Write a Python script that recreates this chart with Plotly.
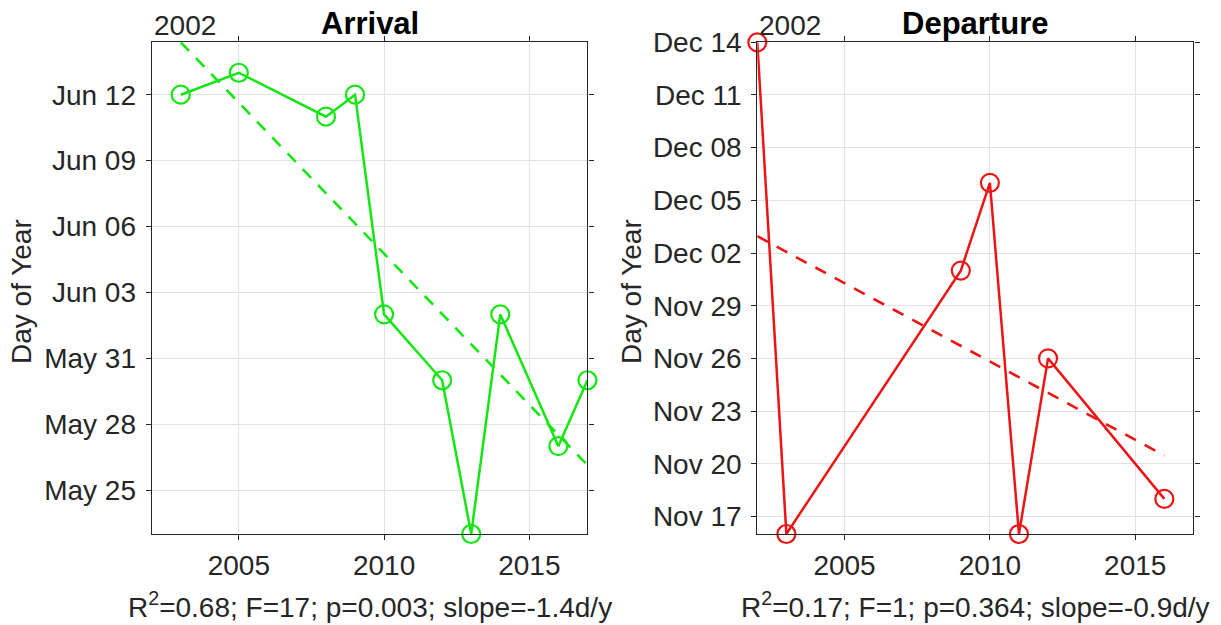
import numpy as np
import pandas as pd
import plotly.graph_objects as go

# ---------------- data ----------------
arrival_years = [2003, 2005, 2008, 2009, 2010, 2012, 2013, 2014, 2016, 2017]
arrival_days = ["06-12", "06-13", "06-11", "06-12", "06-02", "05-30", "05-23", "06-02", "05-27", "05-30"]

departure_years = [2002, 2003, 2009, 2010, 2011, 2012, 2016]
departure_days = ["12-14", "11-16", "12-01", "12-06", "11-16", "11-26", "11-18"]

arrival_stats = "R<sup>2</sup>=0.68; F=17; p=0.003; slope=-1.4d/y"
departure_stats = "R<sup>2</sup>=0.17; F=1; p=0.364; slope=-0.9d/y"
panel_titles = ["Arrival", "Departure"]
y_title = "Day of Year"
x_ticks = [2005, 2010, 2015]
x_range = [2002, 2017]
ref_year = 2001  # neutral non-leap year used to place month/day values on a date axis

GREEN = "#14e614"
RED = "#ec1515"
AX = "#262626"
GRID = "#e2e2e2"
FONT = "Liberation Sans, Arial, sans-serif"
W, H = 1221, 625


def to_dates(md):
    return pd.to_datetime([f"{ref_year}-{d}" for d in md])


def trend(years, dates):
    x = np.asarray(years, dtype=float)
    base = pd.Timestamp(f"{ref_year}-01-01")
    d = np.array([(t - base).total_seconds() / 86400.0 for t in dates])
    k, b = np.polyfit(x, d, 1)
    xs = np.array([x.min(), x.max()])
    ys = [base + pd.Timedelta(days=float(k * xx + b)) for xx in xs]
    return xs, ys


fig = go.Figure()

panels = [
    (arrival_years, to_dates(arrival_days), GREEN, "x", "y"),
    (departure_years, to_dates(departure_days), RED, "x2", "y2"),
]
y_ranges = []
for yrs, dts, col, xa, ya in panels:
    tx, ty = trend(yrs, dts)
    fig.add_trace(go.Scatter(
        x=yrs, y=dts, mode="lines+markers", xaxis=xa, yaxis=ya,
        line=dict(color=col, width=2.5),
        marker=dict(symbol="circle-open", size=18, color=col, line=dict(width=2.2, color=col)),
        cliponaxis=False, showlegend=False,
    ))
    fig.add_trace(go.Scatter(
        x=tx, y=ty, mode="lines", xaxis=xa, yaxis=ya,
        line=dict(color=col, width=2.6, dash="12px,10px"),
        showlegend=False,
    ))
    allv = list(dts) + list(ty)
    y_ranges.append([min(allv), max(allv)])

# ---------------- layout ----------------
x_doms = [[151.7 / W, 587.4 / W], [757.3 / W, 1193.4 / W]]
y_dom = [(H - 534) / H, (H - 42.3) / H]

axis_common = dict(
    showline=True, linecolor=AX, linewidth=1.2, mirror="ticks",
    ticks="outside", ticklen=5, tickwidth=1, tickcolor=AX,
    showgrid=True, gridcolor=GRID, gridwidth=1, zeroline=False,
    tickfont=dict(family=FONT, size=28, color=AX), automargin=False,
)

layout = dict(
    width=W, height=H,
    margin=dict(l=0, r=0, t=0, b=0, pad=0, autoexpand=False),
    paper_bgcolor="white", plot_bgcolor="white",
    font=dict(family=FONT, color=AX),
)
for i in range(2):
    sx = "" if i == 0 else str(i + 1)
    layout["xaxis" + sx] = dict(
        axis_common, domain=x_doms[i], range=x_range, tickvals=x_ticks,
        anchor="y" + sx, ticklabelstandoff=1,
    )
    layout["yaxis" + sx] = dict(
        axis_common, domain=y_dom, type="date", range=y_ranges[i],
        tickformat="%b %d", dtick=3 * 86400000,
        tick0=f"{ref_year}-05-25" if i == 0 else f"{ref_year}-11-17",
        anchor="x" + sx, ticklabelstandoff=4,
    )
fig.update_layout(**layout)

ann = []
stats = [arrival_stats, departure_stats]
ytitle_x = [21, 631]
for i in range(2):
    cx = (x_doms[i][0] + x_doms[i][1]) / 2
    ann.append(dict(text=f"<b>{panel_titles[i]}</b>", x=cx, y=1 - 24 / H, xref="paper", yref="paper",
                    xanchor="center", yanchor="middle", showarrow=False,
                    font=dict(family=FONT, size=31, color="black")))
    ann.append(dict(text=str(x_range[0]), x=x_doms[i][0], y=1 - 26 / H, xref="paper", yref="paper",
                    xanchor="left", yanchor="middle", showarrow=False,
                    font=dict(family=FONT, size=28, color=AX)))
    ann.append(dict(text=stats[i], x=cx, y=1 - 605 / H, xref="paper", yref="paper",
                    xanchor="center", yanchor="middle", showarrow=False,
                    font=dict(family=FONT, size=28, color=AX)))
    ann.append(dict(text=y_title, x=ytitle_x[i] / W, y=1 - 292 / H, xref="paper", yref="paper",
                    xanchor="center", yanchor="middle", textangle=-90, showarrow=False,
                    font=dict(family=FONT, size=28, color=AX)))
fig.update_layout(annotations=ann)

fig.write_html(
    "out.html",
    config={"displayModeBar": False},
    post_script="document.body.style.margin='0';document.body.style.overflow='hidden';",
)
